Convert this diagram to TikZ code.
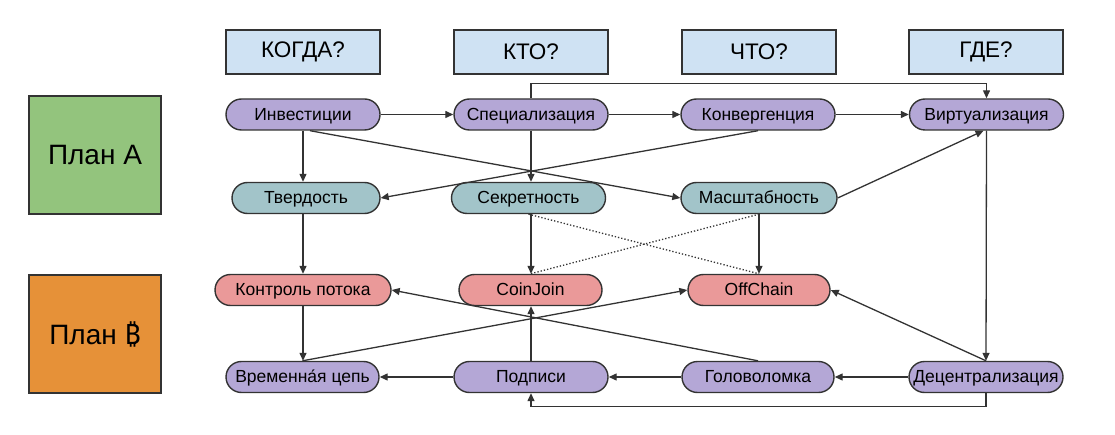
\documentclass[tikz,border=0pt]{standalone}
\usepackage{fontspec}
\setmainfont{Liberation Sans}
\newfontfamily\btcfont{Noto Sans}
\usetikzlibrary{arrows.meta}

\definecolor{headblue}{HTML}{CFE2F3}
\definecolor{planpurple}{HTML}{B4A7D6}
\definecolor{planteal}{HTML}{A2C4C9}
\definecolor{planred}{HTML}{EA9999}
\definecolor{plangreen}{HTML}{93C47D}
\definecolor{planorange}{HTML}{E69138}
\definecolor{edgegray}{HTML}{333333}

\tikzset{
  head/.style={draw=edgegray, line width=1.3pt, fill=headblue, minimum width=154pt, minimum height=44pt, inner sep=0pt, font=\fontsize{22.5}{26}\selectfont},
  plan/.style={draw=edgegray, line width=1.3pt, minimum width=132pt, minimum height=118pt, inner sep=0pt, font=\fontsize{28}{32}\selectfont},
  pill/.style={draw=edgegray, line width=1.4pt, rounded corners=15.5pt, minimum width=154pt, minimum height=31pt, inner sep=0pt, text height=12.5pt, text depth=1pt, font=\fontsize{17.5}{20}\selectfont},
  arr/.style={-{Triangle[length=8pt,width=7pt]}, line width=1.3pt, edgegray},
  dots/.style={dotted, line width=1.3pt, edgegray}
}

\begin{document}
\begin{tikzpicture}[x=1pt,y=-1pt]
\useasboundingbox (0,0) rectangle (1115,435);

% column headers
\node[head] (when) at (303,52) {КОГДА?};
\node[head] (who) at (531,52) {КТО?};
\node[head] (what) at (759,52) {ЧТО?};
\node[head] (where) at (986,52) {ГДЕ?};

% plans
\node[plan, fill=plangreen] (planA) at (95,155) {План A};
\node[plan, fill=planorange] (planB) at (95,334) {План {\btcfont ₿}};

% row 1
\node[pill, fill=planpurple] (invest) at (303,114.5) {Инвестиции};
\node[pill, fill=planpurple] (spec) at (531,114.5) {Специализация};
\node[pill, fill=planpurple] (conv) at (758,114.5) {Конвергенция};
\node[pill, fill=planpurple] (virt) at (986.5,114.5) {Виртуализация};

% row 2
\node[pill, fill=planteal, minimum width=148pt] (hard) at (306,198) {Твердость};
\node[pill, fill=planteal] (secret) at (528.5,198) {Секретность};
\node[pill, fill=planteal, minimum width=156pt] (scale) at (759,198) {Масштабность};

% row 3
\node[pill, fill=planred, minimum width=176pt] (flow) at (303,290) {Контроль потока};
\node[pill, fill=planred, minimum width=143pt] (coinjoin) at (530.5,290) {CoinJoin};
\node[pill, fill=planred, minimum width=142pt] (offchain) at (759,290) {OffChain};

% row 4
\node[pill, fill=planpurple, minimum width=153pt] (chain) at (302.5,377) {Временна́я цепь};
\node[pill, fill=planpurple] (sign) at (531,377) {Подписи};
\node[pill, fill=planpurple, minimum width=152pt] (puzzle) at (758,377) {Головоломка};
\node[pill, fill=planpurple] (decent) at (986,377) {Децентрализация};

% top row links
\draw[arr] (invest) -- (spec);
\draw[arr] (spec) -- (conv);
\draw[arr] (conv) -- (virt);
\draw[arr] (spec.north) -- ++(0,-15) -| (virt.north);

% down links
\draw[arr] (invest.south) -- (invest.south |- hard.north);
\draw[arr] ([xshift=7pt]invest.south) -- (scale.west);
\draw[arr] (spec.south) -- (spec.south |- secret.north);
\draw[arr] (conv.south) -- (hard.east);
\draw[arr] (scale.east) -- ([xshift=-3pt]virt.south);
\draw[arr] (virt.south) -- (decent.north);
\draw[arr] (flow.north |- hard.south) -- (flow.north);
\draw[arr] (spec.south |- secret.south) -- (spec.south |- coinjoin.north);
\draw[arr] (scale.south) -- (scale.south |- offchain.north);
\draw[dots] (secret.south) -- (offchain.north);
\draw[dots] (scale.south) -- (coinjoin.north);

% bottom links
\draw[arr] (flow.south) -- (flow.south |- chain.north);
\draw[arr] (chain.north) -- (offchain.west);
\draw[arr] (puzzle.north) -- (flow.east);
\draw[arr] (sign.north) -- (sign.north |- coinjoin.south);
\draw[arr] (sign) -- (chain);
\draw[arr] (puzzle) -- (sign);
\draw[arr] (decent) -- (puzzle);
\draw[arr] (decent.north) -- (offchain.east);
\draw[arr] (decent.south) -- ++(0,13) -| (sign.south);
\end{tikzpicture}
\end{document}
